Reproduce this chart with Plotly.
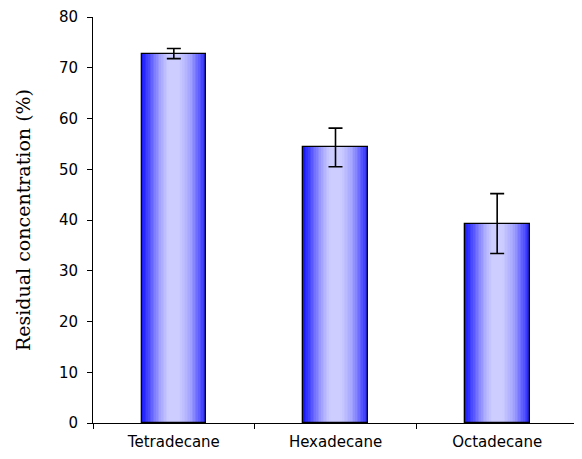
import plotly.graph_objects as go

categories = ["Tetradecane", "Hexadecane", "Octadecane"]
values = [72.8, 54.3, 39.3]
errors = [1.0, 3.8, 5.9]
y_ticks = [0, 10, 20, 30, 40, 50, 60, 70, 80]

# horizontal gradient stops (position, rgb)
stops = [(0.0, (20, 20, 255)), (0.12, (80, 80, 255)), (0.3, (170, 170, 255)),
         (0.42, (205, 205, 255)), (0.58, (205, 205, 255)), (0.75, (165, 165, 255)),
         (0.9, (90, 90, 255)), (1.0, (35, 35, 255))]

def grad(t):
    for (p0, c0), (p1, c1) in zip(stops[:-1], stops[1:]):
        if p0 <= t <= p1:
            f = (t - p0) / (p1 - p0) if p1 > p0 else 0
            c = [round(a + (b - a) * f) for a, b in zip(c0, c1)]
            return f"rgb({c[0]},{c[1]},{c[2]})"
    return "rgb(35,35,255)"

BW = 0.4
N = 40
step = BW / N
fig = go.Figure()
for i in range(N):
    t = (i + 0.5) / N
    w = step * 1.6
    off = -BW / 2 + i * step
    if off + w > BW / 2:
        w = BW / 2 - off
    fig.add_trace(go.Bar(x=categories, y=values, width=w, offset=off,
                         marker=dict(color=grad(t), line=dict(width=0)),
                         showlegend=False, hoverinfo="skip"))

fig.add_trace(go.Bar(x=categories, y=values, width=BW, offset=-BW / 2,
                     marker=dict(color="rgba(0,0,0,0)", line=dict(color="black", width=1.3)),
                     error_y=dict(type="data", array=errors, color="black", thickness=1.6, width=7),
                     showlegend=False))

# page body has an 8px margin, so the figure is sized/offset to compensate
fig.update_layout(
    width=574, height=451, barmode="overlay", bargap=0,
    paper_bgcolor="white", plot_bgcolor="white",
    margin=dict(l=85, r=4, t=9, b=36),
    font=dict(family="DejaVu Sans", size=15, color="black"),
)
fig.update_yaxes(range=[0, 80], tickvals=y_ticks, ticks="outside", ticklen=5,
                 tickcolor="black", showline=True, linecolor="black", linewidth=1,
                 showgrid=False, zeroline=False, automargin=False,
                 ticklabelstandoff=6,
                 title=dict(text="Residual concentration (%)",
                            font=dict(family="DejaVu Serif", size=19),
                            standoff=23))
fig.update_xaxes(ticks="outside", tickson="boundaries", ticklen=5, tickcolor="black",
                 showline=True, linecolor="black", linewidth=1, showgrid=False,
                 automargin=False, ticklabelstandoff=5)

fig.write_html("out.html")
